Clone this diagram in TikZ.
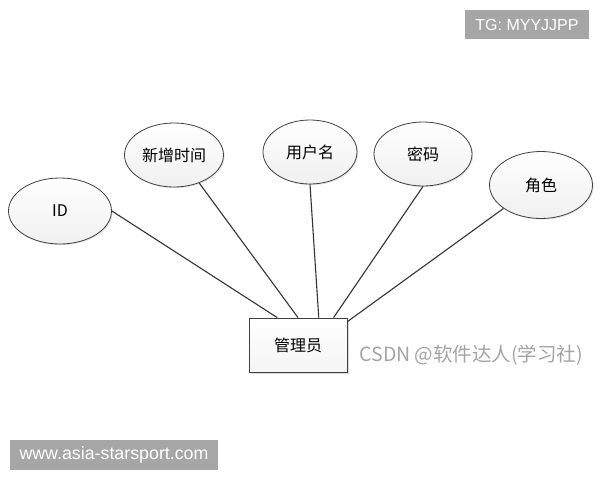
\documentclass[tikz,border=0pt]{standalone}
\usepackage{fontspec}
\setmainfont{Noto Sans CJK SC}
\newfontfamily\wmfont{Liberation Sans}
\usetikzlibrary{calc, shapes.geometric, shadows}

\begin{document}
\begin{tikzpicture}[x=1pt, y=-1pt,
        attr/.style={ellipse, draw=black!75, line width=0.8pt, top color=white, bottom color=gray!12,
            inner sep=0pt, minimum width=100pt, minimum height=64pt, font=\fontsize{16}{18}\selectfont,
            drop shadow={opacity=0.2, shadow xshift=1.2pt, shadow yshift=-1.2pt}},
        entity/.style={rectangle, draw=black!75, line width=0.8pt, top color=white, bottom color=gray!8,
            minimum width=98pt, minimum height=54pt, font=\fontsize{16}{18}\selectfont,
            drop shadow={opacity=0.3, shadow xshift=2pt, shadow yshift=-2pt}},
        link/.style={draw=black!80, line width=1.1pt},
        wmbox/.style={fill=black!35, text=white, inner sep=0pt}]
        \useasboundingbox (0,0) rectangle (600,480);

        \coordinate (I) at (60,211);
        \coordinate (T) at (174,155);
        \coordinate (U) at (310,152);
        \coordinate (P) at (423,154);
        \coordinate (R) at (541,185);
        \coordinate (E) at (298,345);

        \node[attr, minimum width=103pt, minimum height=66pt] (id) at (I) {ID};
        \node[attr, minimum width=99pt] (time) at (T) {新增时间};
        \node[attr, minimum width=94pt] (user) at (U) {用户名};
        \node[attr, minimum width=98pt] (pwd) at (P) {密码};
        \node[attr, minimum width=103pt, minimum height=67pt] (role) at (R) {角色};
        \node[entity] (admin) at (E) {管理员};

        \draw[link] (id.east) -- ($(admin.north west)!0.29!(admin.north east)$);
        \draw[link] (time.-48) -- (admin.north);
        \draw[link] (user.south) -- ($(admin.north west)!0.71!(admin.north east)$);
        \draw[link] (pwd.south) -- ($(admin.north west)!0.86!(admin.north east)$);
        \draw[link] (role.-148) -- ($(admin.north east)+(0,4)$);

        \node[text=black!36, font=\fontsize{19.5}{21}\selectfont, anchor=west] (csdn) at (356,355) {CSDN @软件达人(学习社)};
        \node[wmbox, minimum width=124pt, minimum height=29pt, font=\wmfont\fontsize{16}{18}\selectfont] (tg) at (527,24.5) {TG: MYYJJPP};
        \node[wmbox, minimum width=208pt, minimum height=30pt, font=\wmfont\fontsize{17.8}{20}\selectfont] (www) at (114,455) {www.asia-starsport.com};
\end{tikzpicture}
\end{document}
